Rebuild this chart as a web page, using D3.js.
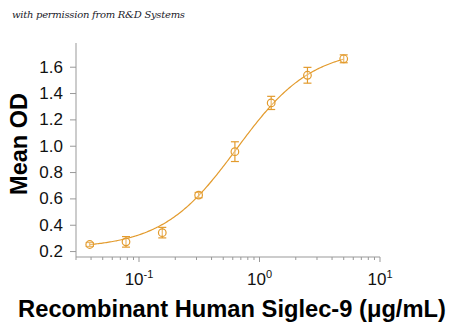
<!DOCTYPE html>
<html>
<head>
<meta charset="utf-8">
<script src="https://cdn.jsdelivr.net/npm/d3@7/dist/d3.min.js"></script>
<style>
  html, body { margin: 0; padding: 0; background: #fff; }
  svg { display: block; }
</style>
</head>
<body>
<svg id="chart" width="450" height="323"></svg>
<script>
// Siglec-9 binding: concentration (µg/mL) vs mean OD with error bars
const concentrations = [0.039, 0.078, 0.156, 0.3125, 0.625, 1.25, 2.5, 5];
const meanOD = [0.25, 0.27, 0.34, 0.625, 0.955, 1.325, 1.535, 1.66];
const errorOD = [0.015, 0.04, 0.04, 0.02, 0.075, 0.05, 0.06, 0.03];
const yTicks = [0.2, 0.4, 0.6, 0.8, 1.0, 1.2, 1.4, 1.6];
const xTickExps = [-1, 0, 1];
// Four-parameter logistic fit: bottom, top, EC50, Hill slope
const fitParams = { bottom: 0.22, top: 1.74, ec50: 0.65, hill: 1.4 };

const color = "#e39b2d";
const svg = d3.select("#chart");

const x = d3.scaleLog().domain([0.03, 10]).range([76, 380]);
const y = d3.scaleLinear().domain([0.155, 1.78]).range([257, 43]);

// credit line
svg.append("text")
  .attr("x", 12).attr("y", 18)
  .attr("font-family", "'DejaVu Serif', serif")
  .attr("font-style", "italic")
  .attr("font-size", 10)
  .attr("textLength", 173)
  .attr("fill", "#1a1a2a")
  .text("with permission from R&D Systems");

// y axis
const yAxis = svg.append("g").attr("transform", "translate(76,0)")
  .call(d3.axisLeft(y).tickValues(yTicks).tickFormat(d3.format(".1f")).tickSize(6).tickPadding(7));
yAxis.select(".domain").attr("stroke", "#999").attr("d", `M0,${y.range()[1]}V${y.range()[0]}`);
yAxis.selectAll(".tick line").attr("stroke", "#999");
yAxis.selectAll(".tick text")
  .attr("font-family", "'Liberation Sans', Arial, sans-serif")
  .attr("font-size", 17).attr("fill", "#111");

// x axis with minor ticks
const minor = [];
for (let e = -2; e <= 1; e++) for (let m = 1; m <= 9; m++) {
  const v = m * Math.pow(10, e);
  if (v >= x.domain()[0] && v <= x.domain()[1]) minor.push(v);
}
const xg = svg.append("g").attr("transform", "translate(0,257)");
xg.append("line").attr("x1", 76).attr("x2", 380).attr("stroke", "#999");
xg.selectAll("line.tk").data(minor).join("line").attr("class", "tk")
  .attr("x1", d => x(d)).attr("x2", d => x(d))
  .attr("y1", 0).attr("y2", d => xTickExps.some(e => Math.abs(Math.log10(d) - e) < 1e-9) ? 5 : 3)
  .attr("stroke", "#999");
const xl = xg.selectAll("text.tl").data(xTickExps).join("text").attr("class", "tl")
  .attr("x", d => x(Math.pow(10, d))).attr("y", 28)
  .attr("text-anchor", "middle")
  .attr("font-family", "'Liberation Sans', Arial, sans-serif")
  .attr("font-size", 17).attr("fill", "#111");
xl.append("tspan").text("10");
xl.append("tspan").attr("dy", -7).attr("font-size", 11).text(d => d);

// axis titles
svg.append("text")
  .attr("transform", "translate(27,144) rotate(-90)")
  .attr("text-anchor", "middle")
  .attr("font-family", "'Liberation Sans', Arial, sans-serif")
  .attr("font-weight", "bold").attr("font-size", 23.5).attr("fill", "#000")
  .text("Mean OD");
svg.append("text")
  .attr("x", 232).attr("y", 317)
  .attr("text-anchor", "middle")
  .attr("font-family", "'Liberation Sans', Arial, sans-serif")
  .attr("font-weight", "bold").attr("font-size", 23.7).attr("fill", "#000")
  .text("Recombinant Human Siglec-9 (μg/mL)");

// fitted curve
const fit = c => fitParams.bottom + (fitParams.top - fitParams.bottom) /
  (1 + Math.pow(fitParams.ec50 / c, fitParams.hill));
const lo = Math.log10(concentrations[0]), hi = Math.log10(concentrations[concentrations.length - 1]);
const curveX = d3.range(0, 201).map(i => Math.pow(10, lo + (hi - lo) * i / 200));
svg.append("path")
  .attr("d", d3.line().x(d => x(d)).y(d => y(fit(d)))(curveX))
  .attr("fill", "none").attr("stroke", color).attr("stroke-width", 1.2);

// error bars and markers
const pts = concentrations.map((c, i) => ({ c, m: meanOD[i], e: errorOD[i] }));
const g = svg.append("g").attr("stroke", color).attr("fill", "none").attr("stroke-width", 1.2);
g.selectAll("line.v").data(pts).join("line").attr("class", "v")
  .attr("x1", d => x(d.c)).attr("x2", d => x(d.c))
  .attr("y1", d => y(d.m - d.e)).attr("y2", d => y(d.m + d.e));
["+", "-"].forEach(s => {
  g.selectAll("line.cap" + (s === "+" ? "t" : "b")).data(pts).join("line")
    .attr("class", "cap" + (s === "+" ? "t" : "b"))
    .attr("x1", d => x(d.c) - 4).attr("x2", d => x(d.c) + 4)
    .attr("y1", d => y(s === "+" ? d.m + d.e : d.m - d.e))
    .attr("y2", d => y(s === "+" ? d.m + d.e : d.m - d.e));
});
g.selectAll("circle").data(pts).join("circle")
  .attr("cx", d => x(d.c)).attr("cy", d => y(d.m)).attr("r", 3.8)
  .attr("fill", "#fff").attr("fill-opacity", 0.3);
</script>
</body>
</html>
